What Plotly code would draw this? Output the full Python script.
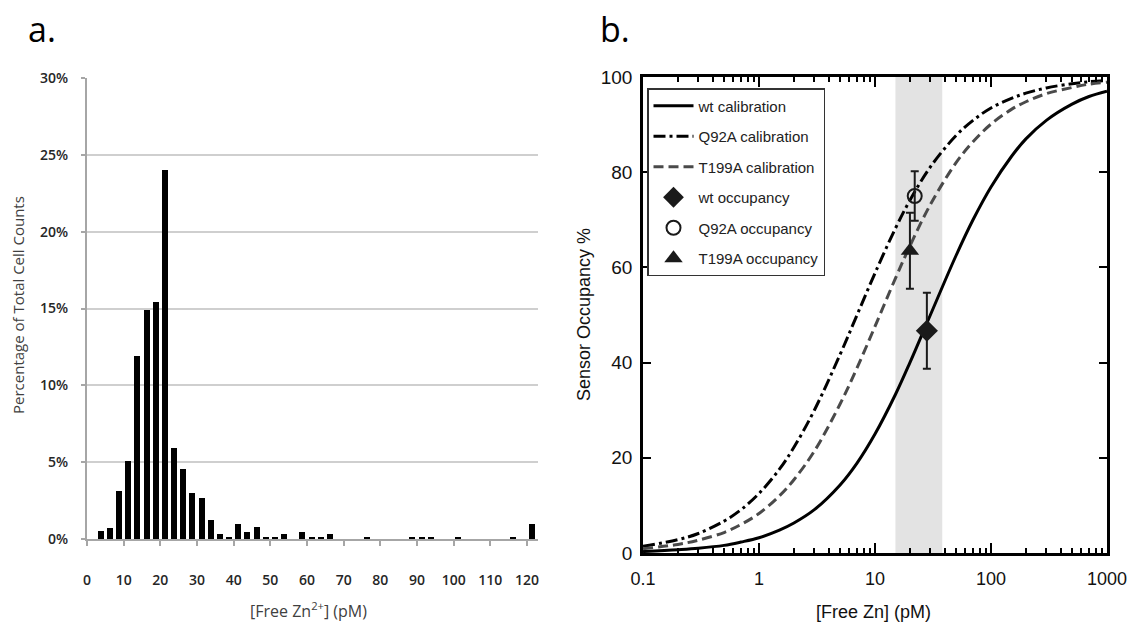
import plotly.graph_objects as go

W, H = 1129, 628

# ---------------- panel a: histogram ----------------
bin_centers = [3.75, 6.25, 8.75, 11.25, 13.75, 16.25, 18.75, 21.25, 23.75, 26.25,
               28.75, 31.25, 33.75, 36.25, 38.75, 41.25, 43.75, 46.25, 48.75, 51.25,
               53.75, 56.25, 58.75, 61.25, 63.75, 66.25, 68.75, 71.25, 73.75, 76.25,
               78.75, 81.25, 83.75, 86.25, 88.75, 91.25, 93.75, 96.25, 98.75, 101.25,
               103.75, 106.25, 108.75, 111.25, 113.75, 116.25, 118.75, 121.25]
pct_cells = [0.5, 0.7, 3.15, 5.05, 11.9, 14.9, 15.4, 24.0, 5.95, 4.55,
             3.0, 2.65, 1.25, 0.35, 0.15, 1.0, 0.45, 0.8, 0.15, 0.15,
             0.3, 0, 0.45, 0.15, 0.15, 0.3, 0, 0, 0, 0.15,
             0, 0, 0, 0, 0.15, 0.15, 0.15, 0, 0, 0.15,
             0, 0, 0, 0, 0, 0.15, 0, 1.0]
hist_xticks = [0, 10, 20, 30, 40, 50, 60, 70, 80, 90, 100, 110, 120]
hist_yticks = [0, 5, 10, 15, 20, 25, 30]
hist_yticktext = ["0%", "5%", "10%", "15%", "20%", "25%", "30%"]

# ---------------- panel b: calibration ----------------
zn_x = [0.1, 0.2, 0.3, 0.5, 0.7, 1, 1.5, 2, 3, 5, 7, 10, 15, 20, 30, 50, 70,
        100, 150, 200, 300, 500, 700, 1000]
wt_cal = [0.3, 0.7, 1.0, 1.6, 2.3, 3.2, 4.8, 6.3, 9.1, 14.3, 18.9, 25.0, 33.3,
          40.0, 50.0, 62.5, 70.0, 76.9, 83.3, 87.0, 90.9, 94.3, 95.9, 97.0]
q92a_cal = [1.4, 2.8, 4.1, 6.7, 9.1, 12.5, 17.6, 22.2, 30.0, 41.7, 50.0, 58.8,
            68.2, 74.1, 81.1, 87.7, 90.9, 93.5, 95.5, 96.6, 97.7, 98.6, 99.0, 99.3]
t199a_cal = [0.9, 1.8, 2.7, 4.3, 6.0, 8.3, 12.0, 15.4, 21.4, 31.3, 38.9, 47.6,
             57.7, 64.5, 73.2, 82.0, 86.4, 90.1, 93.2, 94.8, 96.5, 97.8, 98.5, 98.9]

occ_x = {"wt": 28, "Q92A": 22, "T199A": 20}
occ_y = {"wt": 46.7, "Q92A": 75.0, "T199A": 63.5}
occ_err = {"wt": 8.0, "Q92A": 5.2, "T199A": 8.0}

band_lo, band_hi = 15, 38
occ_xticks = [0.1, 1, 10, 100, 1000]
occ_xticktext = ["0.1", "1", "10", "100", "1000"]
occ_minor = [0.2, 0.3, 0.4, 0.5, 0.6, 0.7, 0.8, 0.9, 2, 3, 4, 5, 6, 7, 8, 9,
             20, 30, 40, 50, 60, 70, 80, 90, 200, 300, 400, 500, 600, 700, 800, 900]

# pixel layout helpers
def px_x(p):
    return p / W

def px_y(p):
    return 1 - p / H

fig = go.Figure()

fig.add_trace(go.Bar(x=bin_centers, y=pct_cells, width=1.65,
                     marker=dict(color="black", line=dict(width=0)),
                     xaxis="x", yaxis="y", showlegend=False))

line_font = "Liberation Sans, Arial, sans-serif"

fig.add_trace(go.Scatter(x=zn_x, y=wt_cal, mode="lines", name="wt calibration",
                         line=dict(color="black", width=3, shape="spline"),
                         xaxis="x2", yaxis="y2", legendgroup="g1"))
fig.add_trace(go.Scatter(x=zn_x, y=q92a_cal, mode="lines", name="Q92A calibration",
                         line=dict(color="black", width=3, shape="spline",
                                   dash="12px,4px,3px,4px"),
                         xaxis="x2", yaxis="y2", legendgroup="g2"))
fig.add_trace(go.Scatter(x=zn_x, y=t199a_cal, mode="lines", name="T199A calibration",
                         line=dict(color="#4a4a4a", width=3, shape="spline",
                                   dash="10px,5px"),
                         xaxis="x2", yaxis="y2", legendgroup="g3"))

marker_styles = {
    "wt": dict(symbol="diamond", size=17, color="#1a1a1a", line=dict(width=0)),
    "Q92A": dict(symbol="circle-open", size=14, color="#1a1a1a", line=dict(width=2)),
    "T199A": dict(symbol="triangle-up", size=16, color="#1a1a1a", line=dict(width=0)),
}
for i, key in enumerate(["wt", "Q92A", "T199A"]):
    fig.add_trace(go.Scatter(
        x=[occ_x[key]], y=[occ_y[key]], mode="markers",
        name=f"{key} occupancy",
        marker=marker_styles[key],
        error_y=dict(type="data", array=[occ_err[key]], color="#1a1a1a",
                     thickness=2, width=4),
        xaxis="x2", yaxis="y2", legendgroup=f"g{4 + i}"))

# plot areas (pixels)
a_l, a_r, a_t, a_b = 87, 538, 78, 539
b_l, b_r, b_t, b_b = 643, 1107, 77, 553

grey_txt = "#262626"
fig.update_layout(
    width=W, height=H,
    margin=dict(l=0, r=0, t=0, b=0),
    paper_bgcolor="white", plot_bgcolor="white",
    bargap=0,
    xaxis=dict(domain=[px_x(a_l), px_x(a_r)], range=[0, 123], automargin=False,
               tickvals=hist_xticks, ticks="outside", ticklen=5, tickwidth=1.5,
               tickcolor="#a6a6a6", showline=True, linecolor="#a6a6a6", linewidth=2,
               showgrid=False, zeroline=False, ticklabelstandoff=22,
               tickfont=dict(family="Open Sans", size=14, color=grey_txt, weight=600),
               anchor="y"),
    yaxis=dict(domain=[px_y(a_b), px_y(a_t)], range=[0, 30], automargin=False,
               tickvals=hist_yticks, ticktext=hist_yticktext, ticks="outside", ticklen=4,
               tickwidth=1.5, tickcolor="#a6a6a6", showline=True, linecolor="#a6a6a6",
               linewidth=2, showgrid=True, gridcolor="#cfcfcf", gridwidth=1.5,
               zeroline=False, ticklabelstandoff=10,
               tickfont=dict(family="Open Sans", size=14, color=grey_txt, weight=600),
               anchor="x"),
    xaxis2=dict(domain=[px_x(b_l), px_x(b_r)], type="log", range=[-1, 3],
                automargin=False,
                tickvals=occ_xticks, ticktext=occ_xticktext,
                ticks="inside", ticklen=10, tickwidth=2, tickcolor="black",
                minor=dict(tickvals=occ_minor, ticks="inside", ticklen=5,
                           tickwidth=1.5, tickcolor="black", showgrid=False),
                showline=True, linecolor="black", linewidth=2.5, mirror="ticks",
                showgrid=False, zeroline=False, ticklabelstandoff=8,
                tickfont=dict(family=line_font, size=18, color="#111"),
                anchor="y2"),
    yaxis2=dict(domain=[px_y(b_b), px_y(b_t)], range=[0, 100], dtick=20,
                automargin=False,
                ticks="inside", ticklen=8, tickwidth=2, tickcolor="black",
                showline=True, linecolor="black", linewidth=2.5, mirror="ticks",
                showgrid=False, zeroline=False, ticklabelstandoff=4,
                tickfont=dict(family=line_font, size=19, color="#111"),
                anchor="x2"),
    legend=dict(x=px_x(647), y=px_y(88), xanchor="left", yanchor="top",
                bgcolor="white", bordercolor="#333", borderwidth=1.5,
                font=dict(family=line_font, size=15, color="#222"),
                tracegroupgap=8, itemwidth=40),
    shapes=[dict(type="rect", xref="x2", yref="y2 domain", x0=band_lo, x1=band_hi,
                 y0=0, y1=1, fillcolor="#e3e3e3", line=dict(width=0), layer="below")],
    annotations=[
        dict(text="a.", x=px_x(26), y=px_y(4), xref="paper", yref="paper",
             xanchor="left", yanchor="top", showarrow=False,
             font=dict(family="Open Sans", size=34, color="black")),
        dict(text="b.", x=px_x(598), y=px_y(4), xref="paper", yref="paper",
             xanchor="left", yanchor="top", showarrow=False,
             font=dict(family="Open Sans", size=34, color="black")),
        dict(text="Percentage of Total Cell Counts", x=px_x(18), y=px_y(305),
             xref="paper", yref="paper", xanchor="center", yanchor="middle",
             textangle=-90, showarrow=False,
             font=dict(family="Open Sans", size=15, color="#404040")),
        dict(text="[Free Zn<sup>2+</sup>] (pM)", x=px_x(308), y=px_y(610),
             xref="paper", yref="paper", xanchor="center", yanchor="middle",
             showarrow=False,
             font=dict(family="Open Sans", size=16, color="#404040")),
        dict(text="Sensor Occupancy %", x=px_x(584), y=px_y(315),
             xref="paper", yref="paper", xanchor="center", yanchor="middle",
             textangle=-90, showarrow=False,
             font=dict(family=line_font, size=18, color="#111")),
        dict(text="[Free Zn] (pM)", x=px_x(873), y=px_y(612),
             xref="paper", yref="paper", xanchor="center", yanchor="middle",
             showarrow=False,
             font=dict(family=line_font, size=18, color="#111")),
    ],
)

fig.write_html("out.html")
